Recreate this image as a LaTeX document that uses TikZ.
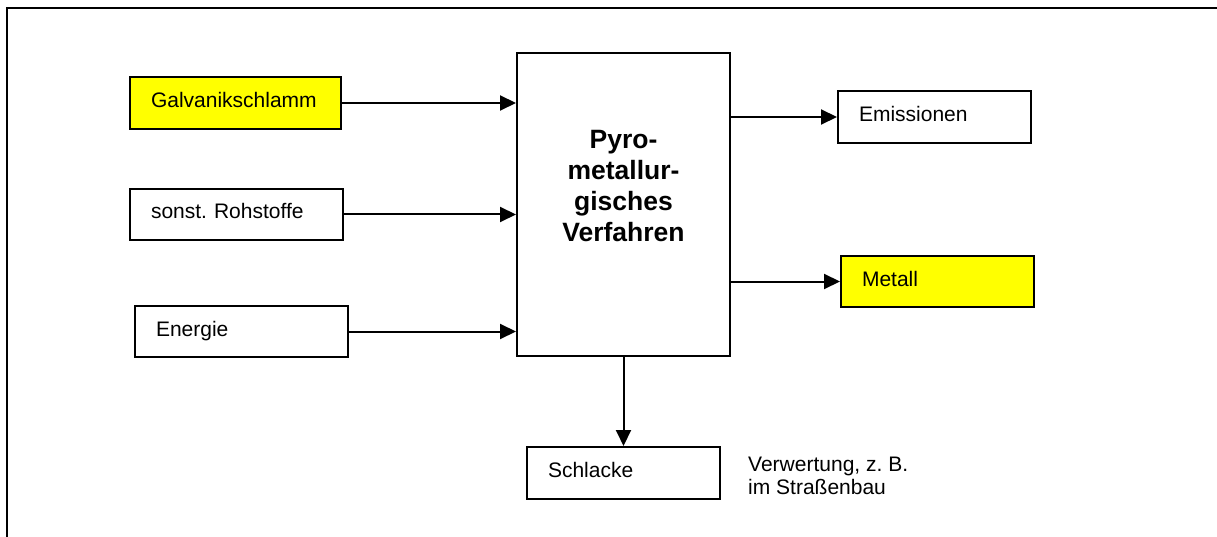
\documentclass[tikz,border=0pt]{standalone}
\usepackage{fontspec}
\setmainfont{Liberation Sans}
\usetikzlibrary{arrows.meta}
\definecolor{boxyellow}{RGB}{255,255,0}
\frenchspacing
\begin{document}
\begin{tikzpicture}[x=1pt,y=-1pt,
  box/.style={draw, line width=2pt, rectangle, inner xsep=21pt, inner ysep=0pt,
    align=left, text height=15pt, text depth=6pt,
    font=\fontsize{21}{23}\selectfont\frenchspacing, anchor=center},
  flow/.style={line width=2pt, -{Triangle[length=16pt,width=15pt]}}]
\useasboundingbox (0,0) rectangle (1217,537);
\draw[line width=2.4pt] (7,537) -- (7,8) -- (1217,8);

\node[box, fill=boxyellow, text width=169pt, minimum height=52pt] (galv) at (235.5,103) {Galvanikschlamm};
\node[box, text width=171pt, minimum height=51pt] (sonst) at (236.5,214.5) {sonst. Rohstoffe};
\node[box, text width=171pt, minimum height=51pt] (energie) at (241.5,331.5) {Energie};
\node[draw, line width=2pt, rectangle, minimum width=213pt, minimum height=303pt, inner sep=0pt] (main) at (623.5,204.5) {};
\node[font=\bfseries\fontsize{26.5}{31.3}\selectfont, align=center, inner sep=0pt] (maintext) at (623.5,186) {Pyro-\\metallur-\\gisches\\Verfahren};
\node[box, text width=151pt, minimum height=52pt] (emis) at (934.5,117) {Emissionen};
\node[box, fill=boxyellow, text width=151pt, minimum height=51pt] (metall) at (937.5,281.5) {Metall};
\node[box, text width=151pt, minimum height=52pt] (schlacke) at (623.5,473) {Schlacke};
\node[anchor=base west, align=left, font=\fontsize{21}{23}\selectfont\frenchspacing, inner sep=0pt] (note) at (748,494) {Verwertung, z. B.\\im Straßenbau};

\draw[flow] (galv.east) -- (galv.east -| main.west);
\draw[flow] (sonst.east) -- (sonst.east -| main.west);
\draw[flow] (energie.east) -- (energie.east -| main.west);
\draw[flow] (main.east |- emis.west) -- (emis.west);
\draw[flow] (main.east |- metall.west) -- (metall.west);
\draw[flow] (main.south) -- (schlacke.north);
\end{tikzpicture}
\end{document}
